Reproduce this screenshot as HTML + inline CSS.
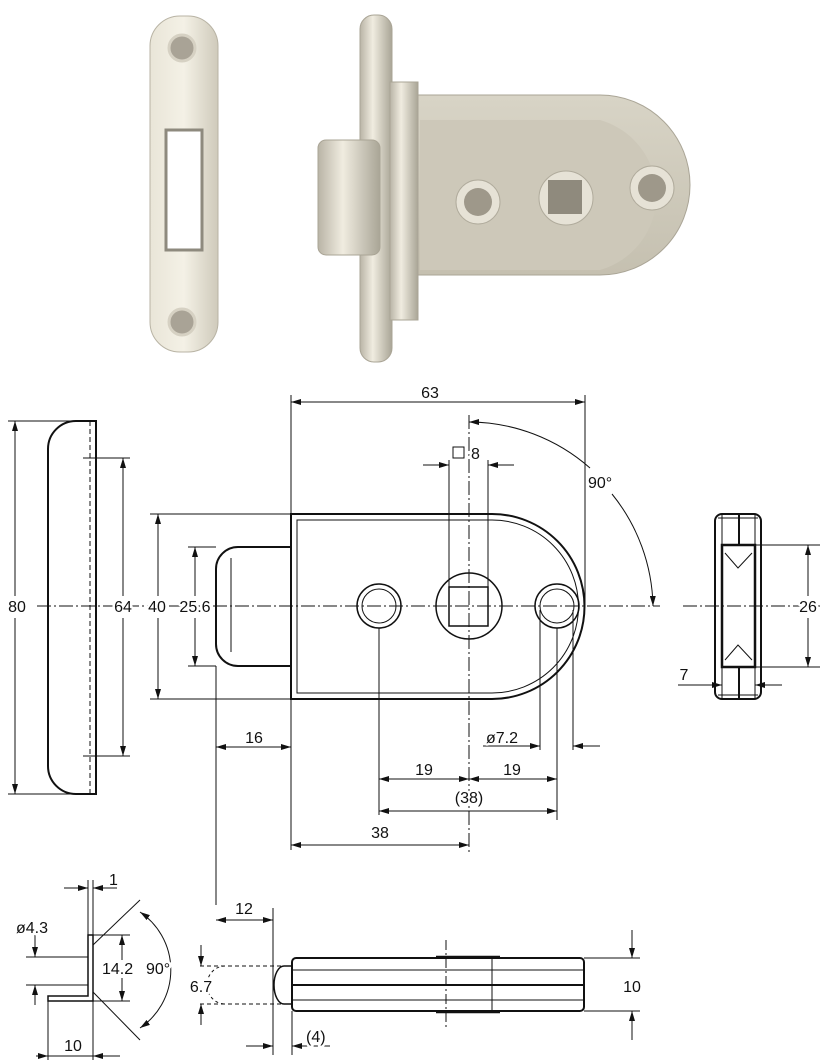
<!DOCTYPE html>
<html><head><meta charset="utf-8"><style>
body{margin:0;background:#fff}
svg{display:block}
text{font-family:"Liberation Sans",sans-serif;font-size:16px;fill:#111;stroke:#fff;stroke-width:5px;paint-order:stroke;stroke-linejoin:round}
</style></head><body>
<svg width="822" height="1063" viewBox="0 0 822 1063" xmlns="http://www.w3.org/2000/svg">
<defs>
<linearGradient id="m1" x1="0" x2="1"><stop offset="0" stop-color="#e9e5d8"/><stop offset=".5" stop-color="#f4f1e6"/><stop offset="1" stop-color="#cfcabb"/></linearGradient>
<linearGradient id="m2" x1="0" x2="0" y1="0" y2="1"><stop offset="0" stop-color="#d8d4c6"/><stop offset="1" stop-color="#c5c0b0"/></linearGradient>
<linearGradient id="m3" x1="0" x2="1"><stop offset="0" stop-color="#b9b4a6"/><stop offset=".4" stop-color="#f0ece0"/><stop offset="1" stop-color="#a9a596"/></linearGradient>
<marker id="a" viewBox="0 0 10 6" refX="10" refY="3" markerWidth="10" markerHeight="6" orient="auto-start-reverse" markerUnits="userSpaceOnUse"><path d="M0,0L10,3L0,6z" fill="#111"/></marker>
</defs>

<!-- photos -->
<rect x="150" y="16" width="68" height="336" rx="30" fill="url(#m1)" stroke="#b8b3a4"/>
<rect x="166" y="130" width="36" height="120" fill="#fff" stroke="#8e8a7e" stroke-width="3"/>
<circle cx="182" cy="48" r="13" fill="#a9a396" stroke="#d6d1c3" stroke-width="3"/>
<circle cx="182" cy="322" r="13" fill="#a9a396" stroke="#d6d1c3" stroke-width="3"/>

<path d="M392,95 H600 A90,90 0 0 1 600,275 H392 Z" fill="url(#m2)" stroke="#aaa596"/>
<path d="M420,120 H600 A78,78 0 0 1 600,270 H420 Z" fill="#cdc8b9"/>
<rect x="360" y="15" width="32" height="347" rx="14" fill="url(#m3)" stroke="#aaa596"/>
<rect x="390" y="82" width="28" height="238" fill="url(#m3)" stroke="#aaa596"/>
<rect x="318" y="140" width="62" height="115" rx="8" fill="url(#m3)" stroke="#aaa596"/>
<circle cx="478" cy="202" r="22" fill="#e6e2d6" stroke="#b0ab9c"/><circle cx="478" cy="202" r="14" fill="#9e988a"/>
<circle cx="566" cy="198" r="27" fill="#e6e2d6" stroke="#b0ab9c"/><rect x="548" y="180" width="34" height="34" fill="#8f8a7d"/>
<circle cx="652" cy="188" r="22" fill="#e6e2d6" stroke="#b0ab9c"/><circle cx="652" cy="188" r="14" fill="#9e988a"/>

<g fill="none" stroke="#111" stroke-width="1">
<path d="M96,421 H76 A28,28 0 0 0 48,449 V766 A28,28 0 0 0 76,794 H96 Z" stroke-width="2"/>
<line x1="90" y1="421" x2="90" y2="794" stroke-dasharray="5,3"/>
<line x1="8" y1="421" x2="96" y2="421"/><line x1="8" y1="794" x2="96" y2="794"/>
<line x1="15" y1="421" x2="15" y2="596" marker-start="url(#a)"/><line x1="15" y1="618" x2="15" y2="794" marker-end="url(#a)"/>
<line x1="83" y1="458" x2="130" y2="458"/><line x1="83" y1="756" x2="130" y2="756"/>
<line x1="123" y1="458" x2="123" y2="596" marker-start="url(#a)"/><line x1="123" y1="618" x2="123" y2="756" marker-end="url(#a)"/>

<path d="M291,514 H492 A92.5,92.5 0 0 1 492,699 H291 Z" stroke-width="2"/>
<path d="M297,520 H492 A86.5,86.5 0 0 1 492,693 H297 Z"/>
<path d="M291,547 H238 A22,22 0 0 0 216,569 V644 A22,22 0 0 0 238,666 H291" stroke-width="2"/>
<line x1="231" y1="558" x2="231" y2="652"/>
<circle cx="379" cy="606" r="22" stroke-width="1.5"/><circle cx="379" cy="606" r="17"/>
<circle cx="469" cy="606" r="33" stroke-width="1.5"/><rect x="449" y="587" width="39" height="39" stroke-width="1.5"/>
<circle cx="557" cy="606" r="22" stroke-width="1.5"/><circle cx="557" cy="606" r="17"/>
<line x1="37" y1="606" x2="660" y2="606" stroke-dasharray="14,3,2,3"/>
<line x1="469" y1="415" x2="469" y2="852" stroke-dasharray="14,3,2,3"/>
<line x1="291" y1="395" x2="291" y2="850"/><line x1="585" y1="395" x2="585" y2="606"/>
<line x1="291" y1="402" x2="585" y2="402" marker-start="url(#a)" marker-end="url(#a)"/>
<path d="M469,422 A184,184 0 0 1 590,468" marker-start="url(#a)"/>
<path d="M612,494 A184,184 0 0 1 653,606" marker-end="url(#a)"/>
<line x1="449" y1="460" x2="449" y2="590"/><line x1="488" y1="460" x2="488" y2="590"/>
<line x1="423" y1="465" x2="449" y2="465" marker-end="url(#a)"/><line x1="514" y1="465" x2="488" y2="465" marker-end="url(#a)"/>
<line x1="150" y1="514" x2="291" y2="514"/><line x1="150" y1="699" x2="291" y2="699"/>
<line x1="158" y1="514" x2="158" y2="596" marker-start="url(#a)"/><line x1="158" y1="618" x2="158" y2="699" marker-end="url(#a)"/>
<line x1="188" y1="547" x2="216" y2="547"/><line x1="188" y1="666" x2="216" y2="666"/>
<line x1="195" y1="547" x2="195" y2="596" marker-start="url(#a)"/><line x1="195" y1="618" x2="195" y2="666" marker-end="url(#a)"/>
<line x1="216" y1="666" x2="216" y2="905"/>
<line x1="216" y1="747" x2="291" y2="747" marker-start="url(#a)" marker-end="url(#a)"/>
<line x1="379" y1="628" x2="379" y2="815"/><line x1="557" y1="628" x2="557" y2="820"/>
<line x1="379" y1="779" x2="469" y2="779" marker-start="url(#a)" marker-end="url(#a)"/>
<line x1="469" y1="779" x2="557" y2="779" marker-start="url(#a)" marker-end="url(#a)"/>
<line x1="379" y1="811" x2="557" y2="811" marker-start="url(#a)" marker-end="url(#a)"/>
<line x1="291" y1="845" x2="469" y2="845" marker-start="url(#a)" marker-end="url(#a)"/>
<line x1="540" y1="610" x2="540" y2="750"/><line x1="573" y1="610" x2="573" y2="750"/>
<line x1="483" y1="746" x2="540" y2="746" marker-end="url(#a)"/><line x1="600" y1="746" x2="573" y2="746" marker-end="url(#a)"/>

<rect x="715" y="514" width="46" height="185" rx="7" stroke-width="2"/>
<line x1="722" y1="514" x2="722" y2="699"/><line x1="755" y1="514" x2="755" y2="699"/>
<line x1="718" y1="518" x2="758" y2="518"/><line x1="718" y1="695" x2="758" y2="695"/>
<rect x="722" y="545" width="33" height="122" stroke-width="2.5"/>
<line x1="739" y1="514" x2="739" y2="545" stroke-width="2"/><line x1="739" y1="667" x2="739" y2="699" stroke-width="2"/>
<path d="M725,553 L738,568 L752,553"/><path d="M725,660 L738,645 L752,660"/>
<line x1="683" y1="606" x2="820" y2="606" stroke-dasharray="14,3,2,3"/>
<line x1="755" y1="545" x2="820" y2="545"/><line x1="755" y1="667" x2="820" y2="667"/>
<line x1="808" y1="545" x2="808" y2="596" marker-start="url(#a)"/><line x1="808" y1="618" x2="808" y2="667" marker-end="url(#a)"/>
<line x1="678" y1="685" x2="722" y2="685" marker-end="url(#a)"/><line x1="782" y1="685" x2="755" y2="685" marker-end="url(#a)"/>

<path d="M88,935 H93 V1001 H48 V996 H88 Z" stroke-width="1.5"/>
<line x1="88" y1="880" x2="88" y2="935"/><line x1="93" y1="880" x2="93" y2="1060"/>
<line x1="64" y1="888" x2="88" y2="888" marker-end="url(#a)"/><line x1="117" y1="888" x2="93" y2="888" marker-end="url(#a)"/>
<line x1="26" y1="957" x2="88" y2="957"/><line x1="26" y1="985" x2="88" y2="985"/>
<line x1="35" y1="935" x2="35" y2="957" marker-end="url(#a)"/><line x1="35" y1="1005" x2="35" y2="985" marker-end="url(#a)"/>
<line x1="93" y1="935" x2="130" y2="935"/><line x1="93" y1="1001" x2="130" y2="1001"/>
<line x1="122" y1="935" x2="122" y2="960" marker-start="url(#a)"/><line x1="122" y1="978" x2="122" y2="1001" marker-end="url(#a)"/>
<line x1="93" y1="945" x2="140" y2="900"/><line x1="93" y1="992" x2="140" y2="1040"/>
<path d="M140,912 A70,70 0 0 1 140,1028" marker-start="url(#a)" marker-end="url(#a)"/>
<line x1="48" y1="1001" x2="48" y2="1060"/>
<line x1="36" y1="1056" x2="48" y2="1056" marker-end="url(#a)"/><line x1="120" y1="1056" x2="93" y2="1056" marker-end="url(#a)"/>
<line x1="48" y1="1056" x2="93" y2="1056"/>

<path d="M296,958 H580 A4,4 0 0 1 584,962 V1007 A4,4 0 0 1 580,1011 H296 A4,4 0 0 1 292,1007 V962 A4,4 0 0 1 296,958 Z" stroke-width="2"/>
<line x1="292" y1="970" x2="584" y2="970"/><line x1="292" y1="1000" x2="584" y2="1000"/>
<line x1="292" y1="985" x2="584" y2="985" stroke-width="2"/>
<line x1="492" y1="958" x2="492" y2="1011"/>
<line x1="436" y1="957" x2="500" y2="957" stroke-width="2.5"/><line x1="436" y1="1012" x2="500" y2="1012" stroke-width="2.5"/>
<line x1="446" y1="940" x2="446" y2="1030" stroke-dasharray="10,3,2,3"/>
<path d="M292,966 H284 A10,19 0 0 0 284,1004 H292" stroke-width="1.5"/>
<line x1="200" y1="966" x2="284" y2="966" stroke-dasharray="4,3"/><line x1="200" y1="1004" x2="284" y2="1004" stroke-dasharray="4,3"/>
<path d="M225,966 A18,19 0 0 0 225,1004" stroke-dasharray="3,3"/>
<line x1="201" y1="945" x2="201" y2="966" marker-end="url(#a)"/><line x1="201" y1="1025" x2="201" y2="1004" marker-end="url(#a)"/>
<line x1="273" y1="908" x2="273" y2="1055"/><line x1="292" y1="1011" x2="292" y2="1055"/>
<line x1="216" y1="920" x2="273" y2="920" marker-start="url(#a)" marker-end="url(#a)"/>
<line x1="246" y1="1046" x2="273" y2="1046" marker-end="url(#a)"/><line x1="330" y1="1046" x2="292" y2="1046" marker-end="url(#a)"/>
<line x1="584" y1="958" x2="640" y2="958"/><line x1="584" y1="1011" x2="640" y2="1011"/>
<line x1="632" y1="930" x2="632" y2="958" marker-end="url(#a)"/><line x1="632" y1="1040" x2="632" y2="1011" marker-end="url(#a)"/>
</g>

<g>
<text x="430" y="398" text-anchor="middle">63</text>
<rect x="453" y="447" width="11" height="11" fill="none" stroke="#111"/>
<text x="471" y="459">8</text>
<text x="588" y="488">90°</text>
<text x="17" y="612" text-anchor="middle">80</text>
<text x="123" y="612" text-anchor="middle">64</text>
<text x="157" y="612" text-anchor="middle">40</text>
<text x="195" y="612" text-anchor="middle">25.6</text>
<text x="254" y="743" text-anchor="middle">16</text>
<text x="486" y="743">ø7.2</text>
<text x="424" y="775" text-anchor="middle">19</text>
<text x="512" y="775" text-anchor="middle">19</text>
<text x="469" y="803" text-anchor="middle">(38)</text>
<text x="380" y="838" text-anchor="middle">38</text>
<text x="808" y="612" text-anchor="middle">26</text>
<text x="684" y="680" text-anchor="middle">7</text>
<text x="109" y="885">1</text>
<text x="16" y="933">ø4.3</text>
<text x="102" y="974">14.2</text>
<text x="146" y="974">90°</text>
<text x="73" y="1051" text-anchor="middle">10</text>
<text x="244" y="914" text-anchor="middle">12</text>
<text x="201" y="992" text-anchor="middle">6.7</text>
<text x="306" y="1042">(4)</text>
<text x="632" y="992" text-anchor="middle">10</text>
</g>
</svg>
</body></html>
